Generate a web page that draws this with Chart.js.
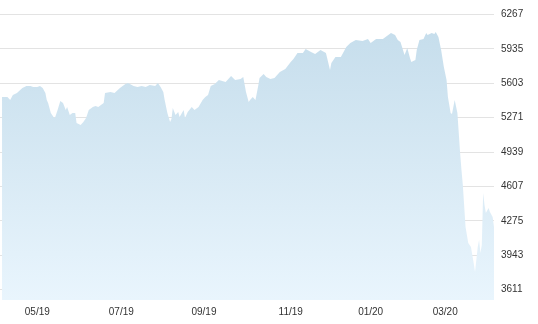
<!DOCTYPE html>
<html>
<head>
<meta charset="utf-8">
<script src="https://cdn.jsdelivr.net/npm/chart.js@4/dist/chart.umd.min.js"></script>
<style>
  html, body { margin: 0; padding: 0; background: #fff; }
  #wrap { width: 538px; height: 324px; position: relative; }
</style>
</head>
<body>
<div id="wrap"><canvas id="chart"></canvas></div>
<script>
// ===============================
// DATA (days since 2019-04-05, index level)
// ===============================

const days = [
  0, 4, 6, 8, 11, 15, 18, 21, 23, 26, 28, 30, 32, 33, 34, 36, 38, 39, 41, 43,
  45, 47, 48, 50, 52, 54, 55, 58, 60, 62, 64, 67, 69, 71, 75, 76, 80, 83, 87, 91,
  93, 97, 100, 103, 106, 109, 113, 115, 117, 119, 120, 122, 124, 125, 126, 128, 130, 131, 134, 135,
  137, 140, 142, 145, 148, 150, 152, 154, 157, 160, 165, 169, 172, 176, 178, 180, 182, 183, 185, 187,
  189, 190, 193, 195, 198, 201, 205, 209, 213, 215, 218, 222, 224, 228, 231, 235, 239, 242, 243, 246,
  250, 254, 257, 261, 266, 270, 272, 276, 281, 287, 290, 292, 294, 297, 299, 301, 302, 305, 306, 308,
  311, 313, 314, 317, 319, 320, 322, 324, 326, 328, 329, 331, 332, 333, 334, 336, 337, 338, 339, 340,
  342, 344, 346, 348, 349, 351, 352, 353, 354, 355, 356, 357, 359, 360, 362, 363
];

const closes = [
  5470, 5470, 5441, 5490, 5509, 5557, 5576, 5576, 5567, 5567, 5576, 5557, 5509, 5441, 5412, 5316, 5277, 5267, 5345, 5432,
  5412, 5345, 5374, 5296, 5316, 5316, 5219, 5200, 5229, 5267, 5345, 5374, 5383, 5374, 5412, 5509, 5518, 5509, 5557, 5596,
  5605, 5576, 5567, 5576, 5567, 5586, 5576, 5605, 5567, 5518, 5441, 5316, 5229, 5258, 5364, 5296, 5325, 5277, 5345, 5267,
  5325, 5374, 5345, 5374, 5441, 5470, 5490, 5576, 5596, 5634, 5615, 5673, 5634, 5644, 5663, 5518, 5422, 5441, 5470, 5441,
  5576, 5654, 5692, 5663, 5644, 5654, 5712, 5741, 5808, 5837, 5895, 5895, 5934, 5905, 5886, 5924, 5895, 5731, 5799, 5857,
  5857, 5953, 5992, 6021, 6011, 6030, 5992, 6030, 6030, 6088, 6069, 6021, 6001, 5876, 5943, 5847, 5808, 5828, 5924, 6021,
  6030, 6088, 6069, 6088, 6079, 6098, 6050, 5924, 5760, 5634, 5470, 5316, 5306, 5374, 5441, 5316, 5123, 4929, 4765, 4620,
  4215, 4060, 4022, 3867, 3780, 4022, 4089, 3964, 4041, 4543, 4427, 4350, 4398, 4360, 4311, 4215
];

const yTicks = [3611, 3943, 4275, 4607, 4939, 5271, 5603, 5935, 6267];
const xTickDays = [26, 88, 149, 213, 272, 327];
const xTickLabels = ["05/19", "07/19", "09/19", "11/19", "01/20", "03/20"];

// ===============================
// CHART
// ===============================

const ctx = document.getElementById("chart");

function areaGradient(context) {
  const area = context.chart.chartArea;
  if (!area) return "#cfe4f0";
  const g = context.chart.ctx.createLinearGradient(0, area.top, 0, area.bottom);
  g.addColorStop(0, "#c2dbea");
  g.addColorStop(1, "#e9f5fd");
  return g;
}

// no extra room around the plot for half-labels
function noPadding(scale) {
  scale.paddingTop = 0;
  scale.paddingBottom = 0;
  scale.paddingLeft = 0;
  scale.paddingRight = 0;
}

const tickFont = { family: "'Liberation Sans', Arial, sans-serif", size: 10 };

new Chart(ctx, {
  type: "line",
  data: {
    datasets: [{
      data: days.map((d, i) => ({ x: d, y: closes[i] })),
      borderWidth: 0,
      pointRadius: 0,
      tension: 0,
      fill: "start",
      backgroundColor: areaGradient
    }]
  },
  options: {
    responsive: true,
    maintainAspectRatio: false,
    animation: false,
    layout: { padding: 0 },
    plugins: { legend: { display: false }, tooltip: { enabled: false } },
    scales: {
      x: {
        type: "linear",
        min: -1.5,
        max: 363,
        grid: { display: false, drawTicks: false },
        border: { display: false },
        afterBuildTicks: scale => { scale.ticks = xTickDays.map(v => ({ value: v })); },
        afterFit: scale => { scale.height = 24; noPadding(scale); },
        ticks: {
          autoSkip: false,
          maxRotation: 0,
          padding: 6,
          color: "#333",
          font: tickFont,
          callback: (val, i) => xTickLabels[i]
        }
      },
      y: {
        position: "right",
        min: 3510,
        max: 6407,
        grid: { color: "#e3e3e3", lineWidth: 1, drawTicks: false },
        border: { display: false },
        afterBuildTicks: scale => { scale.ticks = yTicks.map(v => ({ value: v })); },
        afterFit: scale => { scale.width = 44; noPadding(scale); },
        ticks: {
          padding: 7,
          color: "#333",
          font: tickFont,
          callback: v => String(v)
        }
      }
    }
  }
});
</script>
</body>
</html>
